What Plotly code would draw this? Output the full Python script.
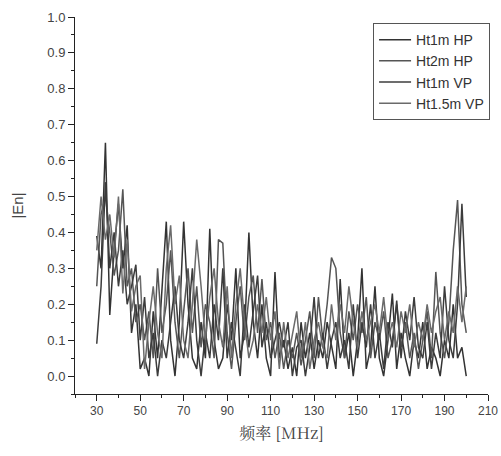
import plotly.graph_objects as go

freq = list(range(30, 201, 2))

ht1m_hp = [0.39, 0.30, 0.65, 0.17, 0.35, 0.48, 0.30, 0.42, 0.12, 0.20,
           0.02, 0.05, 0.00, 0.18, 0.05, 0.25, 0.43, 0.10, 0.00, 0.15,
           0.43, 0.20, 0.05, 0.02, 0.15, 0.05, 0.41, 0.10, 0.02, 0.05,
           0.20, 0.10, 0.30, 0.05, 0.12, 0.40, 0.15, 0.05, 0.20, 0.05,
           0.00, 0.29, 0.05, 0.10, 0.02, 0.08, 0.00, 0.15, 0.05, 0.12,
           0.02, 0.10, 0.05, 0.15, 0.08, 0.02, 0.27, 0.05, 0.12, 0.00,
           0.10, 0.30, 0.02, 0.08, 0.25, 0.05, 0.00, 0.10, 0.23, 0.02,
           0.12, 0.05, 0.00, 0.10, 0.05, 0.15, 0.02, 0.08, 0.05, 0.00,
           0.10, 0.05, 0.20, 0.05, 0.08, 0.00]

ht2m_hp = [0.25, 0.45, 0.50, 0.40, 0.28, 0.35, 0.52, 0.25, 0.30, 0.15,
           0.20, 0.10, 0.18, 0.05, 0.30, 0.12, 0.20, 0.35, 0.15, 0.05,
           0.18, 0.30, 0.12, 0.25, 0.08, 0.20, 0.15, 0.05, 0.38, 0.37,
           0.12, 0.02, 0.15, 0.25, 0.10, 0.22, 0.28, 0.12, 0.27, 0.10,
           0.15, 0.05, 0.12, 0.02, 0.10, 0.05, 0.12, 0.03, 0.10, 0.18,
           0.05, 0.22, 0.10, 0.20, 0.33, 0.30, 0.12, 0.05, 0.18, 0.10,
           0.20, 0.12, 0.22, 0.05, 0.15, 0.10, 0.18, 0.05, 0.10, 0.20,
           0.08, 0.15, 0.05, 0.12, 0.02, 0.10, 0.18, 0.05, 0.29, 0.12,
           0.05, 0.15, 0.35, 0.49, 0.20, 0.12]

ht1m_vp = [0.09, 0.25, 0.54, 0.30, 0.40, 0.25, 0.35, 0.20, 0.25, 0.31,
           0.10, 0.22, 0.05, 0.12, 0.00, 0.10, 0.05, 0.15, 0.25, 0.10,
           0.05, 0.15, 0.30, 0.10, 0.00, 0.12, 0.05, 0.20, 0.10, 0.30,
           0.05, 0.15, 0.08, 0.00, 0.20, 0.08, 0.18, 0.28, 0.08, 0.15,
           0.05, 0.10, 0.15, 0.08, 0.15, 0.00, 0.08, 0.10, 0.00, 0.08,
           0.22, 0.05, 0.12, 0.02, 0.10, 0.15, 0.05, 0.10, 0.02, 0.20,
           0.05, 0.15, 0.08, 0.20, 0.05, 0.12, 0.02, 0.15, 0.08, 0.21,
           0.05, 0.18, 0.10, 0.22, 0.08, 0.05, 0.15, 0.02, 0.12, 0.05,
           0.25, 0.10, 0.05, 0.20, 0.48, 0.22]

ht15m_vp = [0.35, 0.50, 0.38, 0.45, 0.33, 0.50, 0.23, 0.38, 0.18, 0.25,
            0.28, 0.02, 0.15, 0.25, 0.12, 0.05, 0.30, 0.42, 0.20, 0.28,
            0.10, 0.05, 0.20, 0.38, 0.25, 0.10, 0.22, 0.30, 0.15, 0.08,
            0.25, 0.05, 0.20, 0.30, 0.15, 0.05, 0.10, 0.20, 0.12, 0.22,
            0.10, 0.18, 0.02, 0.15, 0.05, 0.12, 0.18, 0.05, 0.15, 0.02,
            0.10, 0.15, 0.08, 0.05, 0.20, 0.10, 0.20, 0.12, 0.25, 0.15,
            0.08, 0.18, 0.10, 0.15, 0.20, 0.12, 0.22, 0.10, 0.15, 0.08,
            0.18, 0.12, 0.20, 0.08, 0.15, 0.10, 0.20, 0.12, 0.18, 0.22,
            0.10, 0.18, 0.12, 0.25, 0.15, 0.25]

series_names = ["Ht1m HP", "Ht2m HP", "Ht1m VP", "Ht1.5m VP"]
series_vals = [ht1m_hp, ht2m_hp, ht1m_vp, ht15m_vp]
colors = ["#333333", "#555555", "#3c3c3c", "#6a6a6a"]

fig = go.Figure()
for name, vals, c in zip(series_names, series_vals, colors):
    fig.add_trace(go.Scatter(x=freq, y=vals, mode="lines", name=name,
                             line=dict(color=c, width=1.5)))

font_main = "Liberation Sans, Arial, sans-serif"
fig.update_layout(
    width=501, height=456,
    margin=dict(l=75, r=11, t=17, b=62),
    paper_bgcolor="white", plot_bgcolor="white",
    showlegend=True,
    legend=dict(x=1.005, y=0.984, xanchor="right", yanchor="top",
                bordercolor="#555555", borderwidth=1, bgcolor="white",
                font=dict(family=font_main, size=14, color="#333333"),
                tracegroupgap=0, itemwidth=32),
    xaxis=dict(range=[20, 210], tickmode="linear", tick0=30, dtick=20,
               ticks="outside", ticklen=6, tickcolor="#222", showline=True,
               linecolor="#222", linewidth=1, showgrid=False, zeroline=False,
               automargin=False,
               minor=dict(ticks="outside", ticklen=3, dtick=10, tick0=30, tickcolor="#222"),
               tickfont=dict(family=font_main, size=12, color="#444"),
               title=dict(text="频率 [MHz]", standoff=10,
                          font=dict(family="Noto Serif CJK SC, Noto Sans CJK SC, serif", size=16, color="#444"))),
    yaxis=dict(range=[-0.05, 1.0], tickmode="linear", tick0=0, dtick=0.1,
               tickformat=".1f",
               ticks="outside", ticklen=6, tickcolor="#222", showline=True,
               linecolor="#222", linewidth=1, showgrid=False, zeroline=False,
               automargin=False,
               minor=dict(ticks="outside", ticklen=3, dtick=0.05, tick0=0, tickcolor="#222"),
               tickfont=dict(family=font_main, size=13, color="#444"),
               title=dict(text="|En|", standoff=20,
                          font=dict(family=font_main, size=15, color="#444"))),
)

fig.write_html("out.html", config={"displayModeBar": False},
               post_script="document.body.style.margin='0';")
